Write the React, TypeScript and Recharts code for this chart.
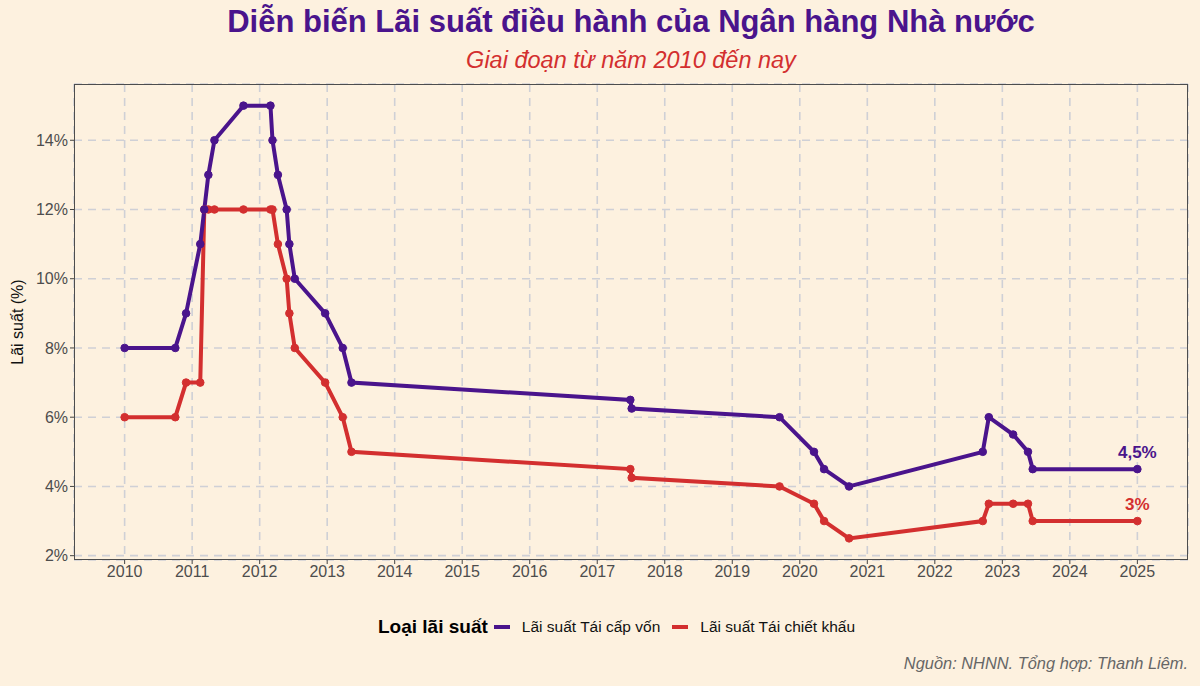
import { LineChart, Line, XAxis, YAxis, CartesianGrid, LabelList } from 'recharts'

const PURPLE = '#4a148c'
const RED = '#d32f2f'
const BG = '#fdf1df'

// decimal year of each rate change
const dates = [
  2010.0, 2010.75, 2010.91, 2011.12, 2011.18, 2011.24, 2011.33, 2011.76, 2012.16, 2012.19,
  2012.27, 2012.4, 2012.44, 2012.52, 2012.97, 2013.23, 2013.36, 2017.49, 2017.51, 2019.7,
  2020.21, 2020.36, 2020.73, 2022.71, 2022.8, 2023.16, 2023.38, 2023.45, 2025.0,
]
// Lãi suất Tái cấp vốn
const refinance = [
  8, 8, 9, 11, 12, 13, 14, 15, 15, 14, 13, 12, 11, 10, 9, 8, 7, 6.5, 6.25, 6, 5, 4.5, 4, 5, 6, 5.5,
  5, 4.5, 4.5,
]
// Lãi suất Tái chiết khấu
const discount = [
  6, 6, 7, 7, 12, 12, 12, 12, 12, 12, 11, 10, 9, 8, 7, 6, 5, 4.5, 4.25, 4, 3.5, 3, 2.5, 3, 3.5,
  3.5, 3.5, 3, 3,
]
const xTicks = [2010, 2011, 2012, 2013, 2014, 2015, 2016, 2017, 2018, 2019, 2020, 2021, 2022, 2023, 2024, 2025]
const yTicks = [2, 4, 6, 8, 10, 12, 14]

const data = dates.map((d, i) => ({ x: d, refinance: refinance[i], discount: discount[i] }))

const FONT = '"Liberation Sans", Arial, sans-serif'

const endLabel = (color: string, text: string) => (props: any) => {
  if (props.index !== data.length - 1) return null
  return (
    <text
      x={props.x}
      y={props.y - 11}
      textAnchor="middle"
      fill={color}
      fontSize={17}
      fontWeight="bold"
      fontFamily={FONT}
    >
      {text}
    </text>
  )
}

export default function App() {
  return (
    <div
      style={{
        position: 'fixed',
        left: 0,
        top: 0,
        width: 1200,
        height: 686,
        background: BG,
        fontFamily: FONT,
      }}
    >
      <div
        style={{
          position: 'absolute',
          left: 74,
          width: 1114,
          top: 4,
          textAlign: 'center',
          fontSize: 31,
          lineHeight: '36px',
          fontWeight: 'bold',
          color: PURPLE,
        }}
      >
        Diễn biến Lãi suất điều hành của Ngân hàng Nhà nước
      </div>
      <div
        style={{
          position: 'absolute',
          left: 74,
          width: 1114,
          top: 46,
          textAlign: 'center',
          fontSize: 23.5,
          lineHeight: '28px',
          fontStyle: 'italic',
          color: RED,
        }}
      >
        Giai đoạn từ năm 2010 đến nay
      </div>
      <div
        style={{
          position: 'absolute',
          left: 18,
          top: 322,
          transform: 'translate(-50%, -50%) rotate(-90deg)',
          whiteSpace: 'nowrap',
          fontSize: 16,
          color: '#111',
        }}
      >
        Lãi suất (%)
      </div>

      <LineChart
        width={1200}
        height={686}
        data={data}
        margin={{ top: 84, right: 12, bottom: 96, left: 0 }}
      >
        <CartesianGrid stroke="#cfd0d6" strokeWidth={1.6} strokeDasharray="8 6" />
        <XAxis
          dataKey="x"
          type="number"
          domain={[2009.25, 2025.75]}
          ticks={xTicks}
          allowDataOverflow
          height={30}
          axisLine={false}
          tickLine={{ stroke: '#444' }}
          tickSize={4}
          tick={{ fill: '#4d4d4d', fontSize: 16, fontFamily: FONT }}
        />
        <YAxis
          type="number"
          domain={[1.875, 15.625]}
          ticks={yTicks}
          allowDataOverflow
          width={74}
          axisLine={false}
          tickLine={{ stroke: '#444' }}
          tickSize={4}
          tickFormatter={(v) => `${v}%`}
          tick={{ fill: '#4d4d4d', fontSize: 16, fontFamily: FONT }}
        />
        <Line
          dataKey="discount"
          type="linear"
          stroke={RED}
          strokeWidth={4}
          dot={{ r: 3.8, fill: RED, stroke: RED, strokeWidth: 1 }}
          isAnimationActive={false}
        >
          <LabelList dataKey="discount" content={endLabel(RED, '3%')} />
        </Line>
        <Line
          dataKey="refinance"
          type="linear"
          stroke={PURPLE}
          strokeWidth={4}
          dot={{ r: 3.8, fill: PURPLE, stroke: PURPLE, strokeWidth: 1 }}
          isAnimationActive={false}
        >
          <LabelList dataKey="refinance" content={endLabel(PURPLE, '4,5%')} />
        </Line>
      </LineChart>

      <div
        style={{
          position: 'absolute',
          left: 74,
          top: 84,
          width: 1114,
          height: 476,
          border: '1px solid #4d4d4d',
          boxSizing: 'border-box',
          pointerEvents: 'none',
        }}
      />

      <div
        style={{
          position: 'absolute',
          left: 378,
          top: 616,
          display: 'flex',
          alignItems: 'center',
          fontSize: 15.5,
          color: '#111',
          whiteSpace: 'nowrap',
        }}
      >
        <span style={{ fontWeight: 'bold', fontSize: 19, color: '#000', marginRight: 6 }}>
          Loại lãi suất
        </span>
        <span style={{ display: 'inline-block', width: 16, height: 4, background: PURPLE, margin: '0 12px 0 0' }} />
        <span style={{ marginRight: 12 }}>Lãi suất Tái cấp vốn</span>
        <span style={{ display: 'inline-block', width: 16, height: 4, background: RED, margin: '0 12px 0 0' }} />
        <span>Lãi suất Tái chiết khấu</span>
      </div>

      <div
        style={{
          position: 'absolute',
          right: 12,
          top: 654,
          fontSize: 16.4,
          fontStyle: 'italic',
          color: '#666',
        }}
      >
        Nguồn: NHNN. Tổng hợp: Thanh Liêm.
      </div>
    </div>
  )
}
